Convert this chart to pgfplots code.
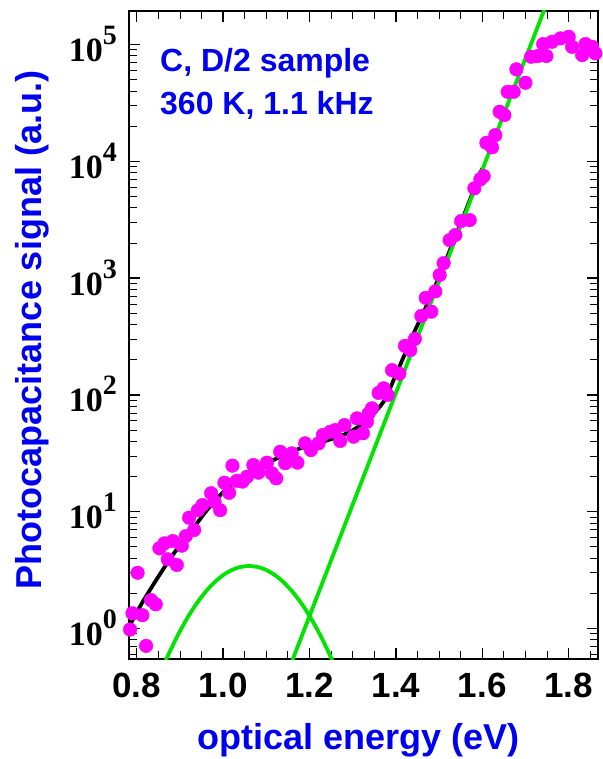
\documentclass[border=0pt]{standalone}
\usepackage{fontspec}
\setmainfont{Liberation Sans}
\newfontfamily\tnr{Liberation Serif}
\usepackage{pgfplots}
\pgfplotsset{compat=1.18}
\definecolor{mag}{RGB}{255,0,255}
\definecolor{grn}{RGB}{0,228,0}
\definecolor{lblue}{RGB}{0,0,240}
\newcommand{\ylab}[1]{\tnr\bfseries 10\raisebox{17pt}{\fontsize{28}{28}\selectfont #1}}

\begin{document}
\begin{tikzpicture}
\begin{axis}[
  scale only axis, width=469pt, height=648pt,
  ymode=log,
  xmin=0.782, xmax=1.868, ymin=0.548, ymax=1.94e5,
  xtick={0.8,1.0,1.2,1.4,1.6,1.8},
  xticklabels={0.8,1.0,1.2,1.4,1.6,1.8},
  minor xtick={0.85,0.9,0.95,1.05,1.1,1.15,1.25,1.3,1.35,1.45,1.5,1.55,1.65,1.7,1.75,1.85},
  ytick={1,10,100,1000,10000,100000},
  yticklabels={\ylab{0},\ylab{1},\ylab{2},\ylab{3},\ylab{4},\ylab{5}},
  minor ytick={0.6,0.7,0.8,0.9,2,3,4,5,6,7,8,9,20,30,40,50,60,70,80,90,200,300,400,500,600,700,800,900,2000,3000,4000,5000,6000,7000,8000,9000,20000,30000,40000,50000,60000,70000,80000,90000},
  tick align=inside,
  major tick length=11pt, minor tick length=8pt,
  major tick style={line width=1.4pt, black},
  minor tick style={line width=0.9pt, black},
  axis line style={line width=2.5pt},
  xticklabel style={font=\fontsize{35}{35}\selectfont\bfseries, inner sep=0pt, anchor=north, yshift=-14pt},
  yticklabel style={inner sep=0pt, anchor=base east, xshift=-12pt, yshift=-17pt, font=\fontsize{34}{34}\selectfont},
  every axis x label/.style={at={(axis description cs:0.4889,-0.1404)}, anchor=base},
  every axis y label/.style={at={(axis description cs:-0.1861,0.5077)}, rotate=90, anchor=base},
  xlabel={\fontsize{36}{36}\selectfont\bfseries\color{lblue}optical energy (eV)},
  ylabel={\fontsize{36}{36}\selectfont\bfseries\color{lblue}Photocapacitance signal (a.u.)},
]
\addplot[only marks, mark=*, mark size=6.8pt, color=mag, mark options={draw=none, fill=mag}] coordinates {
(0.7845,0.98) (0.790,1.35) (0.802,3.0) (0.813,1.30) (0.8216,0.71) (0.833,1.75) (0.844,1.61)
(0.8524,4.86) (0.864,5.36) (0.8718,3.91) (0.8834,5.61) (0.8927,3.50) (0.9043,5.12) (0.9136,6.19)
(0.9212,8.89) (0.9328,6.97) (0.9414,10.3) (0.952,11.4) (0.9722,14.4) (0.980,12.2) (0.993,10.3)
(1.003,17.7) (1.0139,14.5) (1.0216,24.8) (1.0317,18.4) (1.0447,18.1) (1.055,19.9) (1.070,25.1)
(1.0818,21.6) (1.1013,26.3) (1.1129,21.3) (1.123,19.3) (1.1321,32.6) (1.1437,26) (1.159,31.6)
(1.172,26.3) (1.190,38.5) (1.2033,33.7) (1.221,38.5) (1.231,45.4) (1.248,48.4) (1.2596,50)
(1.271,40.3) (1.281,55.2) (1.302,43.9) (1.3098,63) (1.3237,46.9) (1.333,59) (1.337,69.5)
(1.3446,76.8) (1.360,104) (1.3715,114) (1.381,100) (1.391,163) (1.408,152) (1.421,263)
(1.4334,242) (1.444,302) (1.459,475) (1.469,678) (1.482,516) (1.4913,770) (1.5013,1063)
(1.5106,1345) (1.5245,2118) (1.5377,2339) (1.551,3083) (1.571,3143) (1.5817,5875) (1.5956,7015)
(1.6033,7484) (1.6095,14420) (1.6227,13180) (1.6303,16790) (1.6403,26600) (1.6512,24900)
(1.6589,39400) (1.6728,39400) (1.679,61400) (1.70,47100) (1.7131,78700) (1.7284,79800)
(1.741,101000) (1.7485,79800) (1.7617,105700) (1.781,113000) (1.8002,116700) (1.808,95700)
(1.8313,81300) (1.839,101000) (1.8545,95700) (1.862,84100) (1.869,93300)
};
\addplot[black, line width=3.8pt, smooth] coordinates {
(0.7829,1.05) (0.8116,1.64) (0.850,2.78) (0.8888,4.55) (0.9275,6.97) (0.966,10.7) (1.0046,15.3)
(1.0433,19.95) (1.082,24.3) (1.12,28.1) (1.1398,30.5) (1.1785,34.9) (1.2171,38.5) (1.2557,42.5)
(1.2943,48.4) (1.333,61) (1.3715,87.5) (1.3947,134) (1.4179,212) (1.441,336) (1.47,570)
(1.5,1023) (1.55,2950) (1.6,8710)
};
\addplot[grn, line width=3.8pt, smooth] coordinates {
(0.86,0.461) (0.87,0.560) (0.88,0.675) (0.90,0.949) (0.92,1.283) (0.94,1.665) (0.96,2.076)
(0.98,2.488) (1.00,2.863) (1.02,3.166) (1.04,3.361) (1.06,3.43) (1.08,3.361) (1.10,3.166)
(1.12,2.863) (1.14,2.488) (1.16,2.076) (1.18,1.665) (1.20,1.283) (1.22,0.949) (1.24,0.675)
(1.25,0.560) (1.26,0.461)
};
\addplot[grn, line width=3.8pt] coordinates {(1.16,0.530) (1.75,229000)};
\node[anchor=base west, inner sep=0pt, font=\fontsize{32}{32}\selectfont\bfseries, text=lblue] at (axis description cs:0.0661,0.9059) {C, D/2 sample};
\node[anchor=base west, inner sep=0pt, font=\fontsize{32}{32}\selectfont\bfseries, text=lblue] at (axis description cs:0.0661,0.8395) {360 K, 1.1 kHz};
\end{axis}
\pgfresetboundingbox
\path[use as bounding box] ([shift={(-129pt,-100pt)}]current axis.south west) rectangle ++(602pt,759pt);
\end{tikzpicture}
\end{document}
